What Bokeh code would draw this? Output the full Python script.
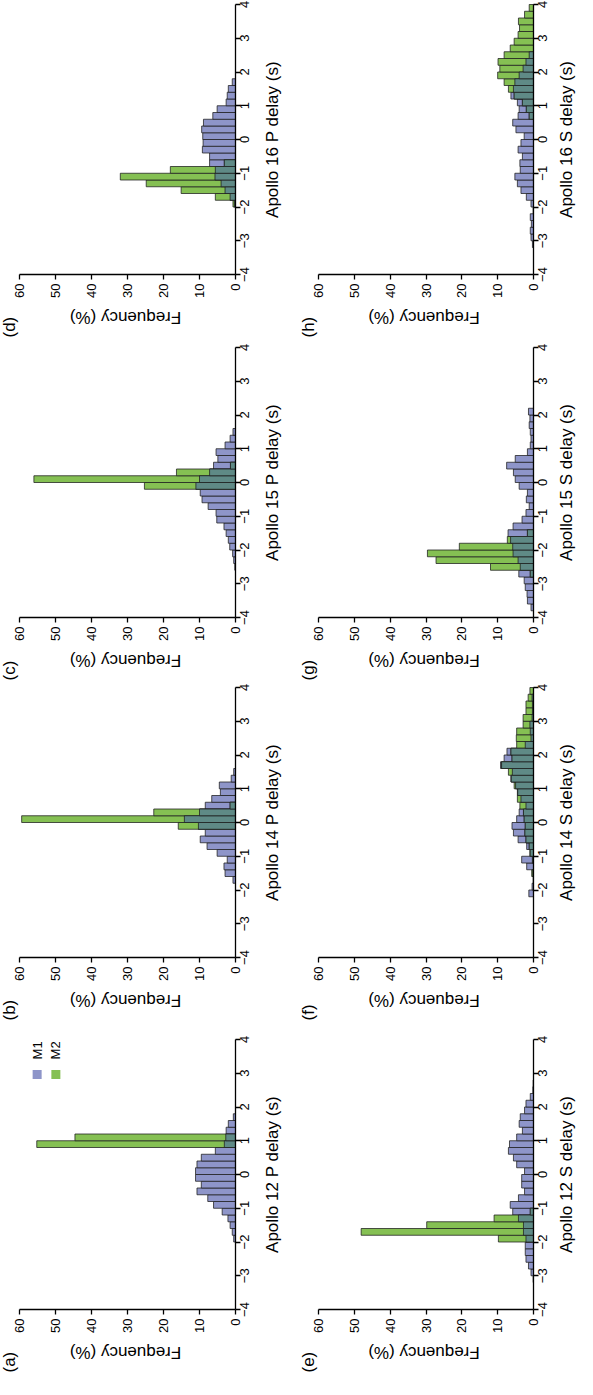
from math import pi
from bokeh.plotting import figure
from bokeh.layouts import column, row
from bokeh.models import Range1d, FixedTicker, ColumnDataSource
from bokeh.core.properties import value
from bokeh.embed import file_html
from bokeh.resources import INLINE

# ---------------- data (bin left edges, width 0.2 s; frequency in %) ----------------
FREQ_TICKS = [0, 10, 20, 30, 40, 50, 60]
DELAY_TICKS = [-4, -3, -2, -1, 0, 1, 2, 3, 4]
SERIES_NAMES = ["M1", "M2"]
FREQ_LABEL = "Frequency (%)"

A_TITLE = "Apollo 12 P delay (s)"
A_DELAY = [-2.0, -1.8, -1.6, -1.4, -1.2, -1.0, -0.8, -0.6, -0.4, -0.2, 0.0, 0.2, 0.4, 0.6, 0.8, 1.0, 1.2, 1.4, 1.6]
A_M1 = [0.5, 0.9, 1.5, 2.1, 3.7, 6.1, 7.7, 10.7, 9.5, 11.1, 11.1, 10.7, 9.5, 5.6, 3.1, 2.7, 2.6, 2.0, 0.6]
A_M2 = [0, 0, 0, 0, 0, 0, 0, 0, 0, 0, 0, 0, 0, 0, 55.2, 44.6, 0, 0, 0]

B_TITLE = "Apollo 14 P delay (s)"
B_DELAY = [-1.8, -1.6, -1.4, -1.2, -1.0, -0.8, -0.6, -0.4, -0.2, 0.0, 0.2, 0.4, 0.6, 0.8, 1.0, 1.2, 1.4]
B_M1 = [0.7, 2.9, 3.2, 2.3, 5.1, 7.9, 9.8, 8.4, 10.3, 14.2, 10.0, 8.4, 6.6, 4.2, 4.5, 1.2, 0.5]
B_M2 = [0, 0, 0, 0, 0, 0, 0, 0, 15.9, 59.4, 22.7, 1.5, 0, 0, 0, 0, 0]

C_TITLE = "Apollo 15 P delay (s)"
C_DELAY = [-2.6, -2.4, -2.2, -2.0, -1.8, -1.6, -1.4, -1.2, -1.0, -0.8, -0.6, -0.4, -0.2, 0.0, 0.2, 0.4, 0.6, 0.8, 1.0, 1.2, 1.4]
C_M1 = [0.2, 0.5, 0.8, 1.6, 2.0, 2.6, 3.2, 5.2, 5.4, 7.6, 9.3, 9.8, 11.0, 10.0, 7.2, 6.1, 4.9, 5.4, 2.9, 1.5, 0.7]
C_M2 = [0, 0, 0, 0, 0, 0, 0, 0, 0, 0, 0, 0, 25.3, 56.0, 16.4, 1.4, 0, 0, 0, 0, 0]

D_TITLE = "Apollo 16 P delay (s)"
D_DELAY = [-2.0, -1.8, -1.6, -1.4, -1.2, -1.0, -0.8, -0.6, -0.4, -0.2, 0.0, 0.2, 0.4, 0.6, 0.8, 1.0, 1.2, 1.4, 1.6]
D_M1 = [0.3, 1.5, 2.9, 4.0, 5.7, 5.6, 7.2, 7.2, 9.2, 9.0, 9.1, 9.4, 8.9, 6.3, 5.1, 2.6, 2.3, 2.0, 0.9]
D_M2 = [0.7, 5.6, 15.1, 24.8, 32.0, 18.1, 3.1, 0, 0, 0, 0, 0, 0, 0, 0, 0, 0, 0, 0]

E_TITLE = "Apollo 12 S delay (s)"
E_DELAY = [-3.2, -3.0, -2.8, -2.6, -2.4, -2.2, -2.0, -1.8, -1.6, -1.4, -1.2, -1.0, -0.8, -0.6, -0.4,
           -0.2, 0.0, 0.2, 0.4, 0.6, 0.8, 1.0, 1.2, 1.4, 1.6, 1.8, 2.0, 2.2, 2.4, 2.6]
E_M1 = [0.1, 0.7, 1.4, 2.1, 2.3, 2.3, 2.1, 2.8, 2.8, 4.2, 5.8, 6.5, 4.2, 2.5, 3.3,
        3.3, 2.5, 4.7, 5.6, 7.0, 6.7, 4.7, 3.1, 4.0, 3.7, 2.5, 2.1, 0.9, 0.2, 0.1]
E_M2 = [0, 0, 0, 0, 0, 0, 9.8, 48.1, 29.8, 11.0, 0.9, 0, 0, 0, 0,
        0, 0, 0, 0, 0, 0, 0, 0, 0, 0, 0, 0, 0, 0, 0]

F_TITLE = "Apollo 14 S delay (s)"
F_DELAY = [-2.2, -2.0, -1.8, -1.6, -1.4, -1.2, -1.0, -0.8, -0.6, -0.4, -0.2, 0.0, 0.2, 0.4, 0.6, 0.8,
           1.0, 1.2, 1.4, 1.6, 1.8, 2.0, 2.2, 2.4, 2.6, 2.8, 3.0, 3.2, 3.4, 3.6, 3.8]
F_M1 = [1.3, 0.4, 0.1, 0.2, 1.9, 3.3, 0.9, 1.9, 4.3, 5.6, 6.0, 4.7, 4.0, 2.1, 3.5, 4.5,
        5.0, 6.3, 5.9, 9.2, 8.2, 7.4, 2.3, 0.7, 0.9, 1.0, 0.4, 0.3, 0.3, 0.4, 0.0]
F_M2 = [0.0, 0.0, 0.0, 0.5, 0.0, 0.3, 1.0, 1.2, 2.1, 2.4, 2.3, 2.6, 2.8, 3.8, 4.5, 4.4,
        5.4, 6.2, 7.0, 8.9, 6.0, 6.3, 4.7, 4.8, 4.7, 2.9, 2.9, 2.1, 2.1, 1.5, 1.0]

G_TITLE = "Apollo 15 S delay (s)"
G_DELAY = [-3.8, -3.6, -3.4, -3.2, -3.0, -2.8, -2.6, -2.4, -2.2, -2.0, -1.8, -1.6, -1.4, -1.2, -1.0,
           -0.8, -0.6, -0.4, -0.2, 0.0, 0.2, 0.4, 0.6, 0.8, 1.0, 1.2, 1.4, 1.6, 1.8, 2.0]
G_M1 = [0.7, 1.7, 1.8, 2.3, 2.6, 4.1, 3.7, 4.3, 5.7, 5.8, 6.4, 7.1, 5.7, 3.2, 2.1,
        1.2, 2.0, 1.7, 4.0, 5.1, 5.6, 7.5, 5.1, 1.7, 0.9, 0.7, 0.9, 1.2, 1.0, 1.4]
G_M2 = [0, 0, 0, 0, 0, 0.9, 12.0, 27.2, 29.6, 20.7, 7.3, 1.7, 0, 0, 0,
        0, 0, 0, 0, 0, 0, 0, 0, 0, 0, 0, 0, 0, 0, 0]

H_TITLE = "Apollo 16 S delay (s)"
H_DELAY = [-3.2, -3.0, -2.8, -2.6, -2.4, -2.2, -2.0, -1.8, -1.6, -1.4, -1.2, -1.0, -0.8, -0.6, -0.4, -0.2, 0.0, 0.2,
           0.4, 0.6, 0.8, 1.0, 1.2, 1.4, 1.6, 1.8, 2.0, 2.2, 2.4, 2.6, 2.8, 3.0, 3.2, 3.4, 3.6, 3.8]
H_M1 = [0.3, 0.7, 0.9, 0.6, 0.9, 0.1, 0.7, 2.0, 3.5, 4.5, 5.2, 3.7, 3.8, 3.1, 4.3, 3.5, 2.6, 4.9,
        5.8, 4.3, 4.0, 4.5, 6.3, 5.6, 5.2, 4.0, 2.9, 2.1, 1.2, 0.0, 0, 0, 0, 0, 0, 0]
H_M2 = [0, 0, 0, 0, 0, 0, 0, 0, 0, 0, 0, 0, 0, 0, 0, 0, 0, 0,
        0, 1.2, 2.0, 3.1, 5.4, 7.0, 8.2, 10.0, 9.4, 9.9, 8.2, 6.5, 5.4, 4.3, 3.9, 4.2, 2.5, 1.2]

# ---------------- style / layout ----------------
BIN = 0.2
COL_M1 = "#8e95c9"
COL_M2 = "#85c053"
COL_BOTH = "#5f8a86"
EDGE = "#1e1e1e"
FONT = "Liberation Sans"
MINUS = "\u2212"
F_MAX, F_MIN = 60, 0        # frequency axis extent (left -> right)
D_MIN, D_MAX = -4, 4        # delay axis extent (bottom -> top)
AX_TOP = 4                  # px from figure top to delay = 4
AX_H = 270                  # px length of delay axis


def bars(p, delay, vals, color):
    ys = [d + BIN / 2 for d, v in zip(delay, vals) if v > 0]
    xs = [v for v in vals if v > 0]
    src = ColumnDataSource(dict(y=ys, right=xs))
    p.hbar(y="y", height=BIN, left=0, right="right", source=src,
           fill_color=color, line_color=EDGE, line_width=0.9, line_alpha=0.85)


def panel(letter, title, delay, m1, m2, width, height, ax_l, ax_r, title_dx, legend=False):
    ppf = (ax_r - ax_l) / (F_MAX - F_MIN)          # px per % frequency
    ppd = AX_H / (D_MAX - D_MIN)                   # px per second delay

    def fx(px):  # figure px (from left) -> frequency
        return F_MAX - (px - ax_l) / ppf

    def fy(py):  # figure px (from top) -> delay
        return D_MAX - (py - AX_TOP) / ppd

    p = figure(width=width, height=height,
               x_range=Range1d(fx(0), fx(width)), y_range=Range1d(fy(height), fy(0)),
               y_axis_location="right", output_backend="svg", toolbar_location=None,
               min_border=0)
    p.outline_line_color = None
    p.grid.visible = False
    p.background_fill_color = "white"
    p.border_fill_color = "white"

    both = [min(a, b) for a, b in zip(m1, m2)]
    bars(p, delay, m1, COL_M1)
    bars(p, delay, m2, COL_M2)
    bars(p, delay, both, COL_BOTH)

    xa = p.xaxis[0]
    xa.fixed_location = D_MIN
    xa.bounds = (F_MIN, F_MAX)
    xa.ticker = FixedTicker(ticks=FREQ_TICKS)
    xa.major_label_orientation = pi / 2
    xa.major_label_standoff = 4
    ya = p.yaxis[0]
    ya.fixed_location = F_MIN
    ya.bounds = (D_MIN, D_MAX)
    ya.ticker = FixedTicker(ticks=DELAY_TICKS)
    ya.major_label_overrides = {t: "" for t in DELAY_TICKS}
    for ax in (xa, ya):
        ax.major_tick_out = 5
        ax.major_tick_in = 0
        ax.minor_tick_out = 0
        ax.minor_tick_in = 0
        ax.axis_line_width = 1.3
        ax.axis_line_color = "black"
        ax.major_tick_line_width = 1.3
        ax.major_tick_line_color = "black"
        ax.major_label_text_font = FONT
        ax.major_label_text_font_size = "13px"
        ax.major_label_text_color = "black"

    def txt(xs, ys, texts, angle, align="center", size="17px"):
        p.text(x=xs, y=ys, text=texts, angle=angle, text_align=align,
               text_baseline="middle", text_font=value(FONT), text_font_size=size,
               text_color="black")

    # delay tick labels (centred on their ticks, reading upward)
    dlabels = [(MINUS + str(-t)) if t < 0 else str(t) for t in DELAY_TICKS]
    txt([fx(ax_r + 9)] * len(DELAY_TICKS), DELAY_TICKS, dlabels, pi / 2, size="13px")

    # axis titles and panel letter
    txt([fx((ax_l + ax_r) / 2 - 2)], [fy(AX_TOP + AX_H + 43)], [FREQ_LABEL], pi)
    txt([fx(ax_r + title_dx)], [fy(AX_TOP + AX_H / 2)], [title], pi / 2)
    txt([fx(ax_l - 10)], [fy(AX_TOP + AX_H + 63)], [letter], pi / 2, align="left")

    if legend:
        lx = [55.1, 49.9]
        p.scatter(x=lx, y=[2.96, 2.96], marker="square", size=9,
                  fill_color=[COL_M1, COL_M2], line_color=None)
        txt(lx, [3.41, 3.41], SERIES_NAMES, pi / 2, align="left", size="13px")
    return p


ROW_H = [343, 340, 352, 344]
LW, L_AXL, L_AXR, L_TDX = 300, 19, 235, 37
RW, R_AXL, R_AXR, R_TDX = 277, 18, 233, 33

rows = []
spec = [
    (("(d)", D_TITLE, D_DELAY, D_M1, D_M2), ("(h)", H_TITLE, H_DELAY, H_M1, H_M2), False),
    (("(c)", C_TITLE, C_DELAY, C_M1, C_M2), ("(g)", G_TITLE, G_DELAY, G_M1, G_M2), False),
    (("(b)", B_TITLE, B_DELAY, B_M1, B_M2), ("(f)", F_TITLE, F_DELAY, F_M1, F_M2), False),
    (("(a)", A_TITLE, A_DELAY, A_M1, A_M2), ("(e)", E_TITLE, E_DELAY, E_M1, E_M2), True),
]
for (left, right, leg), h in zip(spec, ROW_H):
    pl = panel(*left, width=LW, height=h, ax_l=L_AXL, ax_r=L_AXR, title_dx=L_TDX, legend=leg)
    pr = panel(*right, width=RW, height=h, ax_l=R_AXL, ax_r=R_AXR, title_dx=R_TDX)
    rows.append(row(pl, pr))

layout = column(*rows)
open("out.html", "w").write(file_html(layout, INLINE))
